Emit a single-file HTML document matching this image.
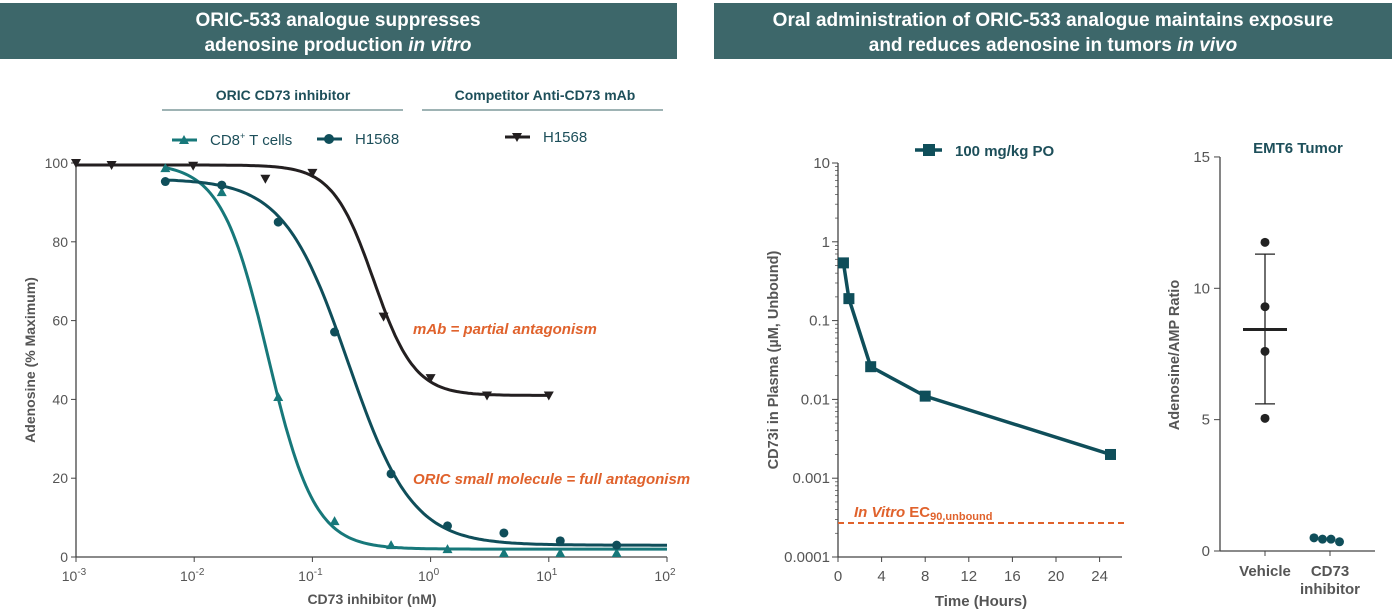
<!DOCTYPE html>
<html><head><meta charset="utf-8"><style>
body{margin:0;background:#fff;width:1392px;height:610px;overflow:hidden;font-family:"Liberation Sans",sans-serif}
svg text{font-family:"Liberation Sans",sans-serif}
</style></head><body>
<svg id="s" width="1392" height="610" xmlns="http://www.w3.org/2000/svg">
<rect x="0" y="3" width="677" height="56" fill="#3d676a"/>
<text x="338" y="26" fill="#fff" font-size="19" font-weight="bold" text-anchor="middle">ORIC-533 analogue suppresses</text>
<text x="338" y="51" fill="#fff" font-size="19" font-weight="bold" text-anchor="middle">adenosine production <tspan font-style="italic">in vitro</tspan></text>
<rect x="714" y="3" width="678" height="56" fill="#3d676a"/>
<text x="1053" y="26" fill="#fff" font-size="19" font-weight="bold" text-anchor="middle">Oral administration of ORIC-533 analogue maintains exposure</text>
<text x="1053" y="51" fill="#fff" font-size="19" font-weight="bold" text-anchor="middle">and reduces adenosine in tumors <tspan font-style="italic">in vivo</tspan></text>
<g id="g1"></g><g id="g2"></g><g id="g3"></g>
</svg>
<script>
// ---- dose response data ----
const doseX=[0.0057,0.0171,0.0514,0.154,0.463,1.39,4.17,12.5,37.5];
const cd8Y=[98.7,92.6,40.6,9.1,3,2,1,1,1];
const h1568Y=[95.3,94.4,85,57.1,21.1,7.9,6.1,4.1,3];
const mabX=[0.001,0.002,0.0098,0.04,0.1,0.4,1,3,10];
const mabY=[100,99.5,99.3,96,97.5,61,45.4,41,41];
const cd8Fit=[100,2,0.042,2.2];
const h1568Fit=[96,3,0.2,1.6];
const mabFit=[99.5,41,0.33,2.5];
const xTickExp=[-3,-2,-1,0,1,2];
const yTicks1=[0,20,40,60,80,100];
// ---- PK data ----
const pkT=[0.5,1,3,8,25];
const pkC=[0.54,0.19,0.026,0.011,0.002];
const ec90=[0.00027];
const pkXTicks=[0,4,8,12,16,20,24];
const pkYTicks=["0.0001","0.001","0.01","0.1","1","10"];
// ---- tumor data ----
const vehY=[11.75,9.3,7.6,5.05];
const vehMean=[8.43];
const vehErr=[5.6,11.3];
const cd73Y=[0.5,0.45,0.45,0.35];
const tumorTicks=[0,5,10,15];

const NS="http://www.w3.org/2000/svg";
function mk(p,t,a,txt){const e=document.createElementNS(NS,t);for(const k in a)e.setAttribute(k,a[k]);if(txt!=null)e.textContent=txt;p.appendChild(e);return e;}
const G="#555";
// chart 1
const g1=document.getElementById('g1');
const x1=v=>76+(Math.log10(v)+3)*118.2, y1=v=>557-v*3.94;
let e;
e=mk(g1,'line',{x1:76,y1:557,x2:667,y2:557,stroke:'#444','stroke-width':1.3});


e=mk(g1,'line',{x1:76,y1:163,x2:76,y2:557,stroke:'#444','stroke-width':1.3});


xTickExp.forEach(p=>{const x=x1(Math.pow(10,p));mk(g1,'line',{x1:x,y1:557,x2:x,y2:562,stroke:'#444'});
 e=mk(g1,'text',{x:x-2,y:581,'font-size':14,fill:G,'text-anchor':'middle'});
 
 
 e.innerHTML='10<tspan dy="-6" font-size="10">'+p+'</tspan>';});
yTicks1.forEach(v=>{const y=y1(v);mk(g1,'line',{x1:71,y1:y,x2:76,y2:y,stroke:'#444'});
 e=mk(g1,'text',{x:68,y:y+5,'font-size':14,fill:G,'text-anchor':'end'},v);
 
 });
e=mk(g1,'text',{x:372,y:604,'font-size':14,'font-weight':'bold',fill:G,'text-anchor':'middle'},'CD73 inhibitor (nM)');


e=mk(g1,'text',{x:35,y:360,'font-size':14,'font-weight':'bold',fill:G,'text-anchor':'middle',transform:'rotate(-90 35 360)'},'Adenosine (% Maximum)');


function fit(p,x){return p[1]+(p[0]-p[1])/(1+Math.pow(x/p[2],p[3]));}
function curve(p,a,b,col,name){let d='';for(let i=0;i<=200;i++){const lx=Math.log10(a)+(Math.log10(b)-Math.log10(a))*i/200;const v=Math.pow(10,lx);d+=(i?'L':'M')+x1(v).toFixed(1)+','+y1(fit(p,v)).toFixed(1);}
 e=mk(g1,'path',{d:d,fill:'none',stroke:col,'stroke-width':3});
 
 }
curve(cd8Fit,0.0057,100,'#17787a','cd8-fit-curve');
curve(h1568Fit,0.0057,100,'#0f4e5a','h1568-fit-curve');
curve(mabFit,0.001,10,'#231f20','mab-fit-curve');
function tri(g,x,y,col,down){const s=down?-1:1;return mk(g,'path',{d:`M${x},${y-5*s}L${x+5},${y+4*s}L${x-5},${y+4*s}Z`,fill:col});}
doseX.forEach((x,i)=>{e=tri(g1,x1(x),y1(cd8Y[i]),'#17787a',false);
 
 
 e=mk(g1,'circle',{cx:x1(x),cy:y1(h1568Y[i]),r:4.5,fill:'#0f4e5a'});
 
 });
mabX.forEach((x,i)=>{e=tri(g1,x1(x),y1(mabY[i]),'#231f20',true);
 
 });
// legend
e=mk(g1,'text',{x:283,y:100,'font-size':14,'font-weight':'bold',fill:'#1d4f5a','text-anchor':'middle'},'ORIC CD73 inhibitor');


mk(g1,'line',{x1:162,y1:110,x2:403,y2:110,stroke:'#3d676a'});
e=mk(g1,'text',{x:545,y:100,'font-size':14,'font-weight':'bold',fill:'#1d4f5a','text-anchor':'middle'},'Competitor Anti-CD73 mAb');


mk(g1,'line',{x1:422,y1:110,x2:663,y2:110,stroke:'#3d676a'});
mk(g1,'line',{x1:172,y1:140,x2:197,y2:140,stroke:'#17787a','stroke-width':3});tri(g1,184,140,'#17787a',false);
e=mk(g1,'text',{x:210,y:145,'font-size':15,fill:'#1d4f5a'});


e.innerHTML='CD8<tspan dy="-6" font-size="9">+</tspan><tspan dy="6"> T cells</tspan>';
mk(g1,'line',{x1:317,y1:139,x2:342,y2:139,stroke:'#0f4e5a','stroke-width':3});mk(g1,'circle',{cx:329,cy:139,r:5,fill:'#0f4e5a'});
e=mk(g1,'text',{x:355,y:144,'font-size':15,fill:'#1d4f5a'},'H1568');


mk(g1,'line',{x1:505,y1:137,x2:530,y2:137,stroke:'#231f20','stroke-width':3});tri(g1,517,137,'#231f20',true);
e=mk(g1,'text',{x:543,y:142,'font-size':15,fill:'#1d4f5a'},'H1568');


e=mk(g1,'text',{x:413,y:334,'font-size':15,'font-weight':'bold','font-style':'italic',fill:'#e0622c'},'mAb = partial antagonism');


e=mk(g1,'text',{x:413,y:484,'font-size':15,'font-weight':'bold','font-style':'italic',fill:'#e0622c'},'ORIC small molecule = full antagonism');



// chart 2 PK
const g2=document.getElementById('g2');
const x2=t=>838+t*10.9, y2=v=>557-(Math.log10(v)+4)*78.8;
e=mk(g2,'line',{x1:838,y1:557,x2:1122,y2:557,stroke:'#444','stroke-width':1.3});


e=mk(g2,'line',{x1:838,y1:163,x2:838,y2:557,stroke:'#444','stroke-width':1.3});


pkXTicks.forEach(t=>{mk(g2,'line',{x1:x2(t),y1:557,x2:x2(t),y2:562,stroke:'#444'});
 e=mk(g2,'text',{x:x2(t),y:581,'font-size':15,fill:G,'text-anchor':'middle'},t);
 
 });
pkYTicks.forEach(s=>{const v=parseFloat(s),y=y2(v);mk(g2,'line',{x1:832,y1:y,x2:838,y2:y,stroke:'#444'});
 for(let k=2;k<10&&v<10;k++){const yy=y2(v*k);mk(g2,'line',{x1:835,y1:yy,x2:838,y2:yy,stroke:'#444','stroke-width':0.7});}
 e=mk(g2,'text',{x:830,y:y+5,'font-size':15,fill:G,'text-anchor':'end'},s);
 
 });
e=mk(g2,'text',{x:981,y:606,'font-size':15,'font-weight':'bold',fill:G,'text-anchor':'middle'},'Time (Hours)');


e=mk(g2,'text',{x:778,y:360,'font-size':14.5,'font-weight':'bold',fill:G,'text-anchor':'middle',transform:'rotate(-90 778 360)'},'CD73i in Plasma (µM, Unbound)');


e=mk(g2,'line',{x1:838,y1:y2(ec90[0]),x2:1126,y2:y2(ec90[0]),stroke:'#e0622c','stroke-width':2,'stroke-dasharray':'6,4'});


e=mk(g2,'text',{x:854,y:y2(ec90[0])-6,'font-size':15,'font-weight':'bold',fill:'#e0622c'});


e.innerHTML='<tspan font-style="italic">In Vitro</tspan> EC<tspan font-size="11" dy="3">90,unbound</tspan>';
e=mk(g2,'path',{d:pkT.map((t,i)=>(i?'L':'M')+x2(t)+','+y2(pkC[i])).join(''),fill:'none',stroke:'#0f4e5a','stroke-width':3.5});


pkT.forEach((t,i)=>{e=mk(g2,'rect',{x:x2(t)-5.5,y:y2(pkC[i])-5.5,width:11,height:11,fill:'#0f4e5a'});
 
 });
mk(g2,'line',{x1:915,y1:150,x2:942,y2:150,stroke:'#0f4e5a','stroke-width':3.5});mk(g2,'rect',{x:923,y:144,width:12,height:12,fill:'#0f4e5a'});
e=mk(g2,'text',{x:955,y:156,'font-size':15,'font-weight':'bold',fill:'#1d4f5a'},'100 mg/kg PO');



// chart 3 tumor
const g3=document.getElementById('g3');
const y3=v=>551-v*26.27;
e=mk(g3,'line',{x1:1220,y1:551,x2:1375,y2:551,stroke:'#444','stroke-width':1.3});


e=mk(g3,'line',{x1:1220,y1:157,x2:1220,y2:551,stroke:'#444','stroke-width':1.3});


tumorTicks.forEach(v=>{mk(g3,'line',{x1:1214,y1:y3(v),x2:1220,y2:y3(v),stroke:'#444'});
 e=mk(g3,'text',{x:1210,y:y3(v)+5,'font-size':15,fill:G,'text-anchor':'end'},v);
 
 });
[1265,1330].forEach(x=>mk(g3,'line',{x1:x,y1:551,x2:x,y2:556,stroke:'#444'}));
e=mk(g3,'text',{x:1265,y:576,'font-size':15,'font-weight':'bold',fill:G,'text-anchor':'middle'},'Vehicle');


e=mk(g3,'text',{x:1330,y:576,'font-size':15,'font-weight':'bold',fill:G,'text-anchor':'middle'},'CD73');


mk(g3,'text',{x:1330,y:594,'font-size':15,'font-weight':'bold',fill:G,'text-anchor':'middle'},'inhibitor');
e=mk(g3,'text',{x:1179,y:355,'font-size':14.5,'font-weight':'bold',fill:G,'text-anchor':'middle',transform:'rotate(-90 1179 355)'},'Adenosine/AMP Ratio');


e=mk(g3,'text',{x:1298,y:153,'font-size':15,'font-weight':'bold',fill:'#1d4f5a','text-anchor':'middle'},'EMT6 Tumor');


e=mk(g3,'path',{d:`M1265,${y3(vehErr[0])}V${y3(vehErr[1])}M1255,${y3(vehErr[0])}H1275M1255,${y3(vehErr[1])}H1275`,stroke:'#222','stroke-width':1.3,fill:'none'});


e=mk(g3,'line',{x1:1243,y1:y3(vehMean[0]),x2:1287,y2:y3(vehMean[0]),stroke:'#222','stroke-width':3});


vehY.forEach(v=>{e=mk(g3,'circle',{cx:1265,cy:y3(v),r:4.5,fill:'#222'});
 
 });
cd73Y.forEach((v,i)=>{e=mk(g3,'circle',{cx:1314+i*8.5,cy:y3(v),r:4.5,fill:'#0f4e5a'});
 
 });
</script>
</body></html>
